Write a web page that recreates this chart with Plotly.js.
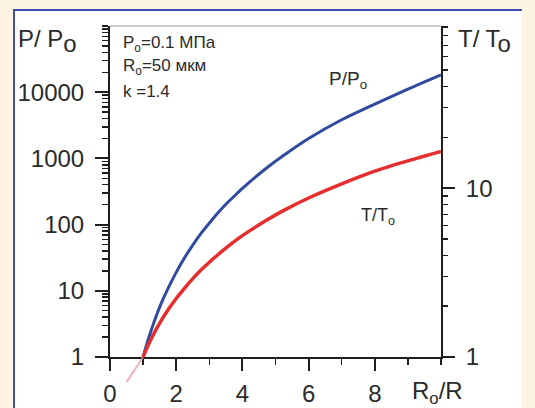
<!DOCTYPE html>
<html><head><meta charset="utf-8">
<script src="https://cdn.plot.ly/plotly-3.0.1.min.js"></script>
<style>
html,body{margin:0;padding:0;background:#fdf4e4;width:535px;height:408px;overflow:hidden}
#box{position:absolute;left:13px;top:9px;width:509px;height:399px;background:#fff;border-left:2px solid #3f4fb0;border-top:2px solid #3f4fb0;box-sizing:border-box}
#chart{position:absolute;left:0;top:0;width:535px;height:408px}
</style></head><body>
<div id="box"></div><div id="chart"></div>
<script>
// R0/R values
const ratio = [1, 1.1, 1.2, 1.35, 1.55, 1.75, 2, 2.25, 2.5, 2.75, 3, 3.25, 3.5, 3.75, 4, 4.25, 4.75, 5.25, 6, 7, 8, 9, 10];
// P/P0
const pressure = [1, 1.5, 2.17, 3.6, 6.5, 10.8, 19, 31.4, 49, 73.5, 105, 148, 203, 268, 352, 454, 728, 1112, 1995, 3830, 6600, 11100, 18200];
// T/T0
const temperature = [1, 1.113, 1.229, 1.404, 1.648, 1.898, 2.22, 2.55, 2.91, 3.27, 3.64, 4.02, 4.41, 4.82, 5.23, 5.64, 6.49, 7.38, 8.74, 10.6, 12.6, 14.5, 16.5];
// faint continuation below R0/R = 1
const ratioLow = [0.5, 1];
const temperatureLow = [0.71, 1];

const xTickVals = [0, 2, 4, 6, 8];
const xTickText = ['0', '2', '4', '6', '8'];
const pTickVals = [1, 10, 100, 1000, 10000];
const pTickText = ['1', '10', '100', '1000', '10000'];
const tTickVals = [1, 10];
const tTickText = ['1', '10'];

const FONT = 'Liberation Sans, Arial, sans-serif';
const TXT = '#2a2a2a';
const AX = '#1e1e1e';

const W = 535, H = 408;
const L = 110, R = 94, T = 26, B = 20;
const pw = W - L - R, ph = H - T - B;
const fx = p => (p - L) / pw;
const fy = p => (H - B - p) / ph;
const axisBottom = 357;
const d0 = fy(axisBottom);
const tTop = 1.96;
const tPerDecade = (axisBottom - T) / tTop;

const traces = [
  {x: ratio, y: pressure, xaxis: 'x', yaxis: 'y', mode: 'lines',
   line: {color: '#2f4a9e', width: 3, shape: 'spline', smoothing: 0.8}, hoverinfo: 'skip'},
  {x: ratio, y: temperature, xaxis: 'x', yaxis: 'y2', mode: 'lines',
   line: {color: '#e62e2e', width: 3.5, shape: 'spline', smoothing: 0.8}, hoverinfo: 'skip'},
  {x: ratioLow, y: temperatureLow, xaxis: 'x3', yaxis: 'y3', mode: 'lines',
   line: {color: 'rgba(245,150,165,0.75)', width: 2}, hoverinfo: 'skip'}
];

const tickfont = {family: FONT, size: 24, color: TXT};
const minorCommon = {ticks: 'outside', tickcolor: AX, tickwidth: 1.5, showgrid: false};

const layout = {
  width: W, height: H,
  margin: {l: L, r: R, t: T, b: B, pad: 0},
  paper_bgcolor: 'rgba(0,0,0,0)', plot_bgcolor: 'rgba(0,0,0,0)',
  showlegend: false,
  font: {family: FONT, color: TXT},
  xaxis: {domain: [0, 1], range: [0, 10], anchor: 'y', showline: true, linecolor: AX, linewidth: 2,
    ticks: 'outside', ticklen: 12, tickwidth: 2, tickcolor: AX, tickmode: 'array',
    tickvals: xTickVals, ticktext: xTickText, tickfont: tickfont, showgrid: false, zeroline: false,
    ticklabelstandoff: 2,
    minor: Object.assign({dtick: 1, tick0: 0, ticklen: 6}, minorCommon)},
  yaxis: {domain: [d0, 1], type: 'log', range: [0, 5], anchor: 'x', side: 'left', showline: true,
    linecolor: AX, linewidth: 2, ticks: 'outside', ticklen: 13, tickwidth: 2, tickcolor: AX,
    tickmode: 'array', tickvals: pTickVals, ticktext: pTickText, tickfont: tickfont,
    showgrid: false, zeroline: false, ticklabelstandoff: 6,
    minor: Object.assign({dtick: 'D1', ticklen: 6}, minorCommon)},
  yaxis2: {type: 'log', range: [0, tTop], overlaying: 'y', side: 'right', anchor: 'x', showline: true,
    linecolor: AX, linewidth: 2, ticks: 'outside', ticklen: 12, tickwidth: 2, tickcolor: AX,
    tickmode: 'array', tickvals: tTickVals, ticktext: tTickText, tickfont: tickfont,
    showgrid: false, zeroline: false, ticklabelstandoff: 6,
    minor: Object.assign({dtick: 'D1', ticklen: 5}, minorCommon)},
  xaxis3: {domain: [0, 1], range: [0, 10], anchor: 'y3', visible: false, fixedrange: true},
  yaxis3: {domain: [0, 1], type: 'log', range: [tTop - ph / tPerDecade, tTop], anchor: 'x3', visible: false, fixedrange: true},
  shapes: [
    {type: 'line', xref: 'paper', yref: 'paper', x0: 0, x1: 1, y0: fy(T), y1: fy(T), line: {color: '#9a9a9a', width: 1}}
  ],
  annotations: [
    {text: 'P/ P<sub><span style="font-size:24px">o</span></sub>', x: fx(16), y: fy(41), xanchor: 'left', yanchor: 'middle', font: {size: 24, family: FONT, color: TXT}},
    {text: 'T/ T<sub><span style="font-size:24px">o</span></sub>', x: fx(456), y: fy(41), xanchor: 'left', yanchor: 'middle', font: {size: 24, family: FONT, color: TXT}},
    {text: 'P<sub>o</sub>=0.1 МПа', x: fx(121), y: fy(44), xanchor: 'left', yanchor: 'middle', font: {size: 17, family: FONT, color: TXT}},
    {text: 'R<sub>o</sub>=50 мкм', x: fx(121), y: fy(67), xanchor: 'left', yanchor: 'middle', font: {size: 17, family: FONT, color: TXT}},
    {text: 'k =1.4', x: fx(121), y: fy(92), xanchor: 'left', yanchor: 'middle', font: {size: 17, family: FONT, color: TXT}},
    {text: 'P/P<sub>o</sub>', x: fx(348), y: fy(80), xanchor: 'center', yanchor: 'middle', font: {size: 19, family: FONT, color: TXT}},
    {text: 'T/T<sub>o</sub>', x: fx(378), y: fy(216), xanchor: 'center', yanchor: 'middle', font: {size: 18, family: FONT, color: TXT}},
    {text: 'R<sub>o</sub>/R', x: fx(437), y: fy(393), xanchor: 'center', yanchor: 'middle', font: {size: 24, family: FONT, color: TXT}}
  ].map(a => Object.assign({xref: 'paper', yref: 'paper', showarrow: false}, a))
};

Plotly.newPlot('chart', traces, layout, {displayModeBar: false, staticPlot: true});
</script>
</body></html>
